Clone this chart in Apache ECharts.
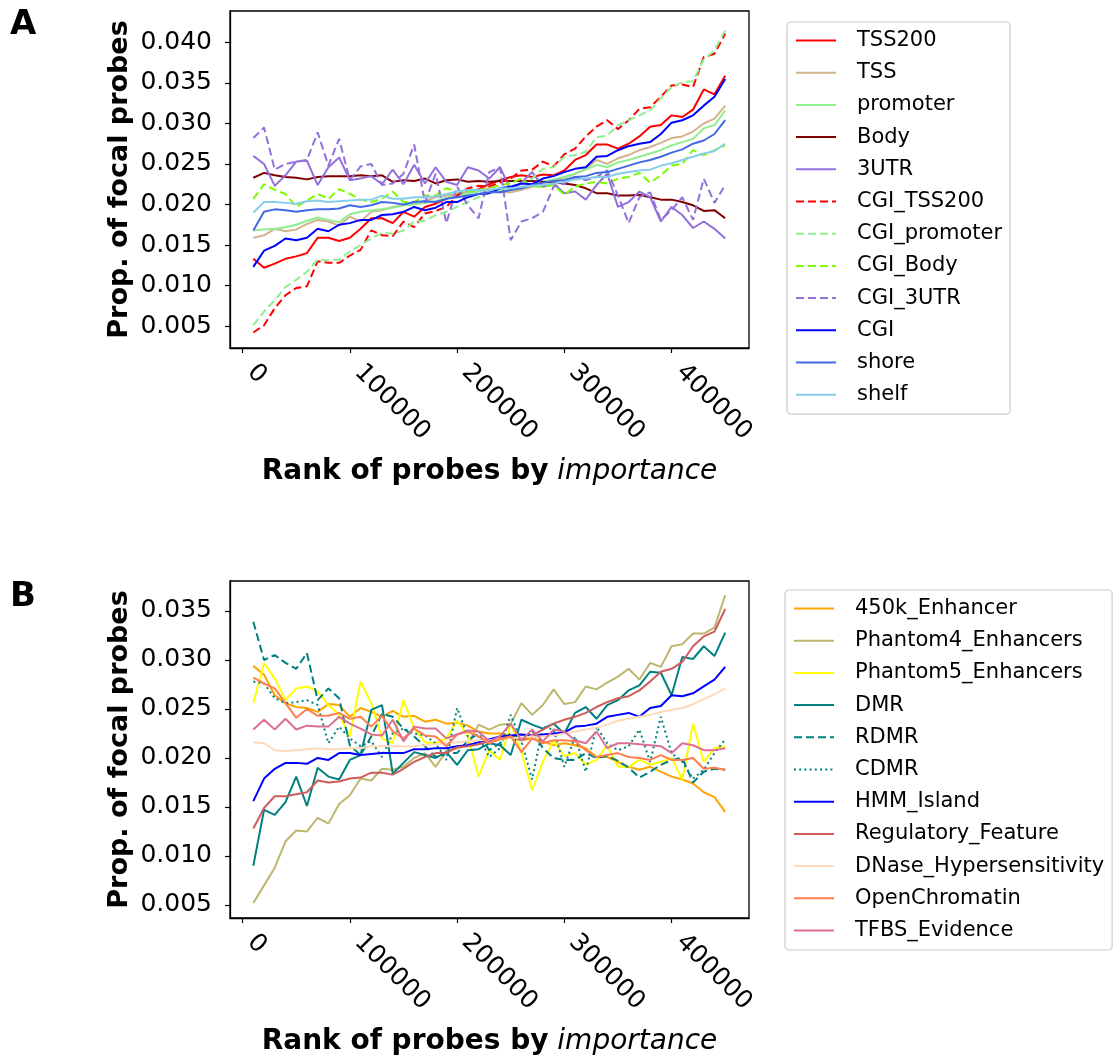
<!DOCTYPE html>
<html>
<head>
<meta charset="utf-8">
<title>Prop. of focal probes</title>
<style>
  body { margin: 0; background: #fff; }
  #chart { width: 1120px; height: 1059px; }
</style>
<script src="https://cdn.jsdelivr.net/npm/echarts@6/dist/echarts.min.js"></script>
</head>
<body>
<div id="chart"></div>
<script>
var FONT = 'DejaVu Sans';

// rank of probes (x positions)
var rank = [10000, 20000, 30000, 40000, 50000, 60000, 70000, 80000, 90000, 100000,
  110000, 120000, 130000, 140000, 150000, 160000, 170000, 180000, 190000, 200000,
  210000, 220000, 230000, 240000, 250000, 260000, 270000, 280000, 290000, 300000,
  310000, 320000, 330000, 340000, 350000, 360000, 370000, 380000, 390000, 400000,
  410000, 420000, 430000, 440000, 450000];

var xTicks = [0, 100000, 200000, 300000, 400000];
var yTicksA = [5, 10, 15, 20, 25, 30, 35, 40];   // in 1/1000
var yTicksB = [5, 10, 15, 20, 25, 30, 35];

// panel A, proportions in 1/1000
var tss200 = [13.3,12.2,12.7,13.3,13.6,14.0,15.9,15.9,15.5,15.9,17.0,18.3,18.3,17.7,19.1,18.5,19.7,20.1,20.7,21.3,21.5,21.9,22.5,23.0,23.4,23.6,23.4,23.7,23.6,24.2,25.5,26.1,27.4,27.4,26.9,27.5,28.4,29.6,29.8,31.0,30.8,31.7,34.2,33.6,35.9];
var tss = [15.9,16.2,17.0,16.7,16.9,17.6,18.1,17.9,17.4,18.5,17.9,19.1,19.3,19.7,19.9,20.2,20.4,20.9,21.1,21.3,21.5,21.8,21.9,21.5,21.5,21.8,22.2,22.6,22.8,23.3,23.8,24.4,25.5,25.0,25.7,26.1,26.7,27.1,27.6,28.2,28.4,29.0,30.0,30.6,32.2];
var promoter = [16.8,16.9,17.0,17.2,17.5,18.0,18.4,18.1,17.8,18.8,19.1,19.3,19.4,19.6,19.9,20.0,20.2,20.4,20.8,21.1,21.4,21.6,21.8,21.7,21.8,22.2,22.4,22.8,23.1,23.4,23.8,24.3,24.9,24.6,25.2,25.5,25.9,26.3,26.7,27.3,27.7,28.1,29.4,29.8,31.6];
var body = [23.3,23.9,23.6,23.4,23.3,23.1,23.4,23.5,23.5,23.5,23.6,23.5,23.6,22.8,23.0,22.9,23.2,22.6,23.0,23.1,22.8,22.9,22.8,22.9,22.9,22.9,22.9,22.8,22.7,22.6,22.4,22.0,21.4,21.4,21.1,21.1,21.2,20.9,20.6,20.6,20.3,19.9,19.2,19.3,18.3];
var utr3 = [26.0,25.0,22.3,23.6,25.3,25.4,22.4,24.6,25.8,23.0,23.2,23.5,22.5,24.3,22.5,24.9,22.6,24.6,22.8,22.4,24.6,24.2,23.2,24.6,21.8,22.7,24.0,22.2,22.6,21.4,21.6,20.6,22.4,23.8,19.7,20.3,21.6,20.9,17.9,19.7,18.7,17.1,17.9,17.0,15.8];
var cgiTss200 = [4.2,5.1,7.2,8.8,9.7,9.9,13.0,12.8,12.8,13.7,14.4,16.8,16.2,16.1,17.9,17.2,18.9,19.2,19.7,21.1,22.0,22.3,22.2,22.7,23.2,24.2,24.3,25.3,24.7,26.2,26.9,28.4,29.6,30.4,29.3,30.4,31.8,32.0,33.3,34.7,34.8,34.5,38.2,38.6,41.1];
var cgiPromoter = [5.1,6.8,8.2,9.8,10.7,11.7,13.2,13.1,13.2,14.2,15.0,15.8,16.5,16.4,16.8,17.9,18.0,18.7,19.1,19.7,20.3,20.9,21.4,21.8,22.2,22.6,23.2,24.4,24.6,25.9,26.1,26.5,28.3,28.5,29.8,30.4,31.0,31.6,33.1,34.5,35.1,35.2,37.9,39.0,41.5];
var cgiBody = [20.7,22.5,21.8,21.3,19.7,20.5,21.3,20.7,21.9,21.3,20.6,20.3,20.7,21.6,20.3,20.3,21.1,21.1,22.0,21.6,21.6,21.8,22.0,22.4,22.6,23.2,22.2,22.2,22.4,21.2,22.2,22.6,22.8,22.6,23.2,23.4,23.9,22.7,23.6,24.8,25.0,26.7,26.1,26.7,27.3];
var cgi3utr = [28.2,29.5,24.3,25.0,25.3,25.5,28.9,24.8,28.1,23.0,24.7,25.0,22.4,22.6,23.8,27.4,20.2,23.8,17.7,22.2,19.9,18.3,24.0,24.6,15.6,17.9,18.3,19.1,22.2,22.6,23.4,23.0,23.4,24.2,21.1,17.7,20.9,21.5,18.1,19.3,20.9,18.1,23.2,20.2,22.4];
var cgi = [12.3,14.3,14.9,15.8,15.6,15.9,17.0,16.7,17.5,17.7,18.1,18.1,18.7,18.8,19.1,19.7,19.3,19.6,20.3,20.3,20.9,21.3,21.4,22.0,22.2,22.6,22.5,23.2,23.5,24.0,24.4,24.6,25.9,26.0,26.7,27.2,27.5,27.7,28.7,30.1,30.4,31.0,32.2,33.3,35.5];
var shore = [16.8,19.1,19.4,19.3,19.1,19.3,19.4,19.4,19.5,19.9,19.7,19.9,20.3,20.2,20.0,20.3,20.4,20.3,20.7,20.9,21.1,21.3,21.5,21.5,21.8,22.0,22.4,22.7,22.9,23.0,23.4,23.5,23.9,24.0,24.4,24.8,25.2,25.5,25.9,26.4,26.8,27.5,27.9,28.7,30.4];
var shelf = [19.0,20.3,20.3,20.2,20.1,20.4,20.5,20.3,20.4,20.5,20.6,20.6,21.1,20.7,20.7,20.9,20.9,21.0,21.3,21.6,21.8,21.8,21.8,22.0,22.0,22.2,22.3,22.4,22.6,22.8,23.1,23.2,23.4,23.4,23.8,24.0,24.2,24.3,24.8,25.1,25.5,25.9,26.3,26.6,27.5];

// panel B, proportions in 1/1000
var enh450k = [29.4,28.5,26.4,25.6,25.2,25.1,24.7,25.5,25.4,24.2,25.1,24.7,24.2,24.8,24.2,24.3,23.7,23.9,23.5,23.6,23.3,22.7,22.5,22.5,22.3,21.8,22.0,21.7,21.3,21.5,21.3,21.0,20.1,20.1,19.6,19.1,18.8,19.1,18.6,18.1,17.8,17.4,16.5,16.0,14.5];
var phantom4 = [5.2,7.0,8.8,11.5,12.6,12.5,13.9,13.3,15.3,16.2,17.9,17.7,18.9,18.8,19.1,20.0,20.5,19.1,20.7,21.0,21.3,23.4,22.9,23.4,23.5,25.6,24.4,25.4,27.0,25.5,25.7,27.3,27.0,27.7,28.3,29.1,28.0,29.7,29.3,31.4,31.6,32.7,32.7,33.3,36.6];
var phantom5 = [25.6,29.7,28.1,25.9,27.1,27.3,26.8,25.4,24.4,22.2,27.8,25.6,22.0,21.5,25.9,23.0,21.6,21.5,22.0,23.8,22.3,18.1,20.8,19.8,23.5,20.6,16.7,19.6,21.8,20.2,20.5,19.3,19.8,21.3,19.1,19.1,19.8,19.3,19.6,20.0,17.8,23.5,19.6,21.0,21.2];
var dmr = [9.0,14.7,14.2,15.5,18.1,15.1,19.0,18.1,17.8,19.8,20.3,24.9,25.4,18.4,19.5,20.6,20.3,20.0,20.6,19.3,20.8,20.9,21.5,21.3,20.3,23.9,23.4,23.0,23.5,22.5,24.6,25.2,24.0,25.4,25.9,26.9,27.4,28.8,28.7,26.4,30.3,30.1,31.4,30.4,32.8];
var rdmr = [33.9,30.0,30.5,29.7,29.1,30.7,25.9,27.1,26.1,21.3,20.3,22.2,24.5,24.2,23.0,22.2,21.2,20.1,20.5,20.5,21.8,22.5,20.8,21.5,22.5,21.8,22.8,21.0,20.0,19.8,19.8,20.5,20.0,20.2,19.7,19.0,18.0,18.6,19.3,19.8,20.0,17.5,18.6,18.9,18.8];
var cdmr = [27.8,27.6,26.1,25.6,25.7,25.9,25.4,21.5,23.2,22.0,21.2,21.7,20.1,22.5,23.0,22.5,22.3,21.5,19.8,25.1,22.2,22.2,20.1,21.0,24.4,21.7,17.8,23.2,22.9,19.1,22.2,18.6,23.2,21.5,20.8,21.2,22.9,19.6,24.2,20.5,19.6,17.9,18.8,20.5,21.9];
var hmmIsland = [15.6,17.9,18.9,19.5,19.5,19.4,20.0,19.8,20.5,20.5,20.3,20.4,20.5,20.5,20.5,20.9,20.9,21.0,21.0,21.2,21.3,21.6,21.9,22.2,22.3,22.4,22.3,22.4,22.5,22.6,23.2,23.3,23.5,24.2,24.4,24.6,24.2,25.1,25.3,26.4,26.3,26.6,27.3,28.0,29.3];
var regFeature = [12.8,14.9,16.1,16.1,16.3,16.5,17.7,17.5,17.6,17.9,18.0,18.5,18.5,18.3,18.9,19.6,20.1,20.5,20.5,21.1,21.2,21.4,21.7,22.0,22.2,21.8,22.3,22.9,23.5,23.9,24.2,24.6,25.2,25.7,26.1,26.3,26.9,27.8,28.8,29.1,29.8,31.4,32.4,32.9,35.2];
var dnase = [21.6,21.5,20.8,20.7,20.8,20.9,21.0,20.9,20.9,21.0,21.0,21.2,21.2,21.2,21.2,21.2,21.3,21.4,21.5,21.6,21.7,21.8,21.8,21.9,22.0,22.1,22.2,22.2,22.3,22.5,22.7,22.9,23.1,23.4,23.8,24.0,24.2,24.4,24.7,24.9,25.1,25.5,26.0,26.5,27.1];
var openChromatin = [28.2,27.6,27.1,25.6,24.1,25.0,24.3,24.3,24.6,24.0,24.2,23.2,24.3,22.7,22.0,23.0,22.3,22.2,21.2,22.4,22.7,22.2,21.5,21.9,22.2,20.6,22.0,21.5,21.8,21.8,21.7,20.8,20.1,20.3,20.5,20.1,20.0,19.8,20.3,19.8,19.8,20.0,18.9,19.0,18.8];
var tfbs = [22.9,23.9,22.9,24.0,22.9,23.3,23.2,23.2,24.2,23.5,23.0,22.4,22.3,23.9,21.7,23.2,23.0,23.0,22.0,22.4,22.8,22.7,21.7,22.2,23.5,21.8,22.9,21.7,22.9,22.7,21.8,21.5,22.7,21.0,21.5,21.5,21.4,21.3,21.2,20.5,21.5,21.3,20.8,20.8,21.0];

var DASH = [8, 4];
var DOT = [2, 3.2];

// name, values, colour, line type
var seriesA = [
  ['TSS200', tss200, '#ff0000', 'solid'],
  ['TSS', tss, '#d2b48c', 'solid'],
  ['promoter', promoter, '#90ee90', 'solid'],
  ['Body', body, '#800000', 'solid'],
  ['3UTR', utr3, '#9370db', 'solid'],
  ['CGI_TSS200', cgiTss200, '#ff0000', DASH],
  ['CGI_promoter', cgiPromoter, '#90ee90', DASH],
  ['CGI_Body', cgiBody, '#7cfc00', DASH],
  ['CGI_3UTR', cgi3utr, '#9370db', DASH],
  ['CGI', cgi, '#0000ff', 'solid'],
  ['shore', shore, '#4169e1', 'solid'],
  ['shelf', shelf, '#87ceeb', 'solid']
];
var seriesB = [
  ['450k_Enhancer', enh450k, '#ffa500', 'solid'],
  ['Phantom4_Enhancers', phantom4, '#bdb76b', 'solid'],
  ['Phantom5_Enhancers', phantom5, '#ffff00', 'solid'],
  ['DMR', dmr, '#008080', 'solid'],
  ['RDMR', rdmr, '#008080', DASH],
  ['CDMR', cdmr, '#008080', DOT],
  ['HMM_Island', hmmIsland, '#0000ff', 'solid'],
  ['Regulatory_Feature', regFeature, '#cd5c5c', 'solid'],
  ['DNase_Hypersensitivity', dnase, '#ffdab9', 'solid'],
  ['OpenChromatin', openChromatin, '#ff7f50', 'solid'],
  ['TFBS_Evidence', tfbs, '#db7093', 'solid']
];

function makeSeries(list, idx) {
  return list.map(function (s) {
    return {
      name: s[0],
      type: 'line',
      xAxisIndex: idx,
      yAxisIndex: idx,
      symbol: 'none',
      animation: false,
      data: rank.map(function (r, i) { return [r, s[1][i]]; }),
      lineStyle: { color: s[2], width: 2, type: s[3] },
      itemStyle: { color: s[2] }
    };
  });
}

var TICK = { show: true, length: 5, lineStyle: { color: '#000', width: 1.2 } };
var LINE = { show: true, onZero: false, lineStyle: { color: '#000', width: 1.3 } };

function xAxis(idx, gap) {
  return {
    type: 'value', gridIndex: idx, min: -11750, max: 472200,
    splitLine: { show: false },
    axisLine: LINE,
    axisTick: Object.assign({ customValues: xTicks }, TICK),
    axisLabel: {
      customValues: xTicks, rotate: -45, margin: 12,
      padding: [0, 0, 0, 12],
      fontFamily: FONT, fontSize: 25, color: '#000',
      formatter: function (v) { return String(v); }
    },
    name: '{b|Rank of probes by} {i|importance}',
    nameLocation: 'middle', nameGap: gap,
    nameTextStyle: {
      fontFamily: FONT, fontSize: 28, color: '#000',
      rich: {
        b: { fontFamily: FONT, fontSize: 28, fontWeight: 'bold', color: '#000' },
        i: { fontFamily: FONT, fontSize: 28, fontStyle: 'italic', color: '#000' }
      }
    }
  };
}

function yAxis(idx, min, max, ticks) {
  return {
    type: 'value', gridIndex: idx, min: min, max: max,
    splitLine: { show: false },
    axisLine: LINE,
    axisTick: Object.assign({ customValues: ticks }, TICK),
    axisLabel: {
      customValues: ticks, margin: 18,
      fontFamily: FONT, fontSize: 25, color: '#000',
      formatter: function (v) { return (v / 1000).toFixed(3); }
    },
    name: 'Prop. of focal probes',
    nameLocation: 'middle', nameGap: 97, nameRotate: 90,
    nameTextStyle: { fontFamily: FONT, fontSize: 27, fontWeight: 'bold', color: '#000' }
  };
}

function legend(names, left, top) {
  return {
    orient: 'vertical', left: left, top: top,
    data: names,
    itemWidth: 40, itemHeight: 14, itemGap: 11.2,
    padding: [8, 8, 9, 8],
    borderColor: '#cccccc', borderWidth: 1.2, borderRadius: 4,
    selectedMode: false,
    itemStyle: { opacity: 0 },
    textStyle: { fontFamily: FONT, fontSize: 21, color: '#000', lineHeight: 21, padding: [0, 0, 0, 16] }
  };
}

var chart = echarts.init(document.getElementById('chart'), null, { renderer: 'canvas' });
chart.setOption({
  animation: false,
  backgroundColor: '#fff',
  grid: [
    { left: 230, top: 11, width: 519, height: 337, show: true, borderColor: '#000', borderWidth: 1.3 },
    { left: 230, top: 581, width: 519, height: 337, show: true, borderColor: '#000', borderWidth: 1.3 }
  ],
  xAxis: [xAxis(0, 110), xAxis(1, 110)],
  yAxis: [yAxis(0, 2.29, 43.88, yTicksA), yAxis(1, 3.67, 38.06, yTicksB)],
  legend: [
    legend(seriesA.map(function (s) { return s[0]; }), 787, 22),
    legend(seriesB.map(function (s) { return s[0]; }), 785, 590)
  ],
  graphic: [
    { type: 'text', left: 10, top: 8, style: { text: 'A', fontFamily: FONT, fontSize: 34, fontWeight: 'bold', fill: '#000' } },
    { type: 'text', left: 10, top: 580, style: { text: 'B', fontFamily: FONT, fontSize: 34, fontWeight: 'bold', fill: '#000' } }
  ],
  series: makeSeries(seriesA, 0).concat(makeSeries(seriesB, 1))
});
</script>
</body>
</html>
